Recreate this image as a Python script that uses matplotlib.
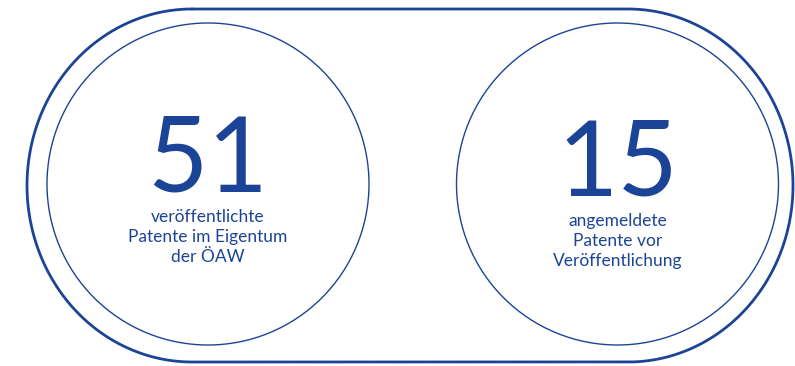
import numpy as np
import matplotlib
matplotlib.use("Agg")
import matplotlib.pyplot as plt
from matplotlib.patches import Circle

# key figures shown in the two circles
counts = [51, 15]
captions = [
    ["veröffentlichte", "Patente im Eigentum", "der ÖAW"],
    ["angemeldete", "Patente vor", "Veröffentlichung"],
]

NAVY = "#1c4496"

W, H = 795, 366
fig = plt.figure(figsize=(W / 100, H / 100), dpi=100)
ax = fig.add_axes([0, 0, 1, 1])
ax.set_xlim(0, W)
ax.set_ylim(H, 0)
ax.axis("off")

# outer frame: two half-ellipses joined by straight lines
cy, rx, ry = 185.5, 165, 176.5
xl, xr = 192, 628
t = np.linspace(np.pi / 2, 3 * np.pi / 2, 200)
left_x = xl + rx * np.cos(t)
left_y = cy - ry * np.sin(t)
t2 = np.linspace(-np.pi / 2, np.pi / 2, 200)
right_x = xr + rx * np.cos(t2)
right_y = cy - ry * np.sin(t2)
fx = np.concatenate([left_x, right_x, left_x[:1]])
fy = np.concatenate([left_y, right_y, left_y[:1]])
ax.plot(fx, fy, color=NAVY, lw=2.0, solid_capstyle="round")

centers = [(208, 184), (617.5, 184)]
num_base = [192, 196]
cap_base = [[222, 242, 261.5], [226, 246, 266]]

for (cx, ccy), n, lines, nb, cb in zip(centers, counts, captions, num_base, cap_base):
    ax.add_patch(Circle((cx, ccy), 161, fill=False, ec=NAVY, lw=1.0))
    ax.text(cx, nb, str(n), ha="center", va="baseline", fontsize=75,
            family="Lato", color=NAVY)
    for line, y in zip(lines, cb):
        ax.text(cx, y, line, ha="center", va="baseline", fontsize=12.5,
                family="Lato", color=NAVY)

fig.savefig("out.png", dpi=100, facecolor="white")
